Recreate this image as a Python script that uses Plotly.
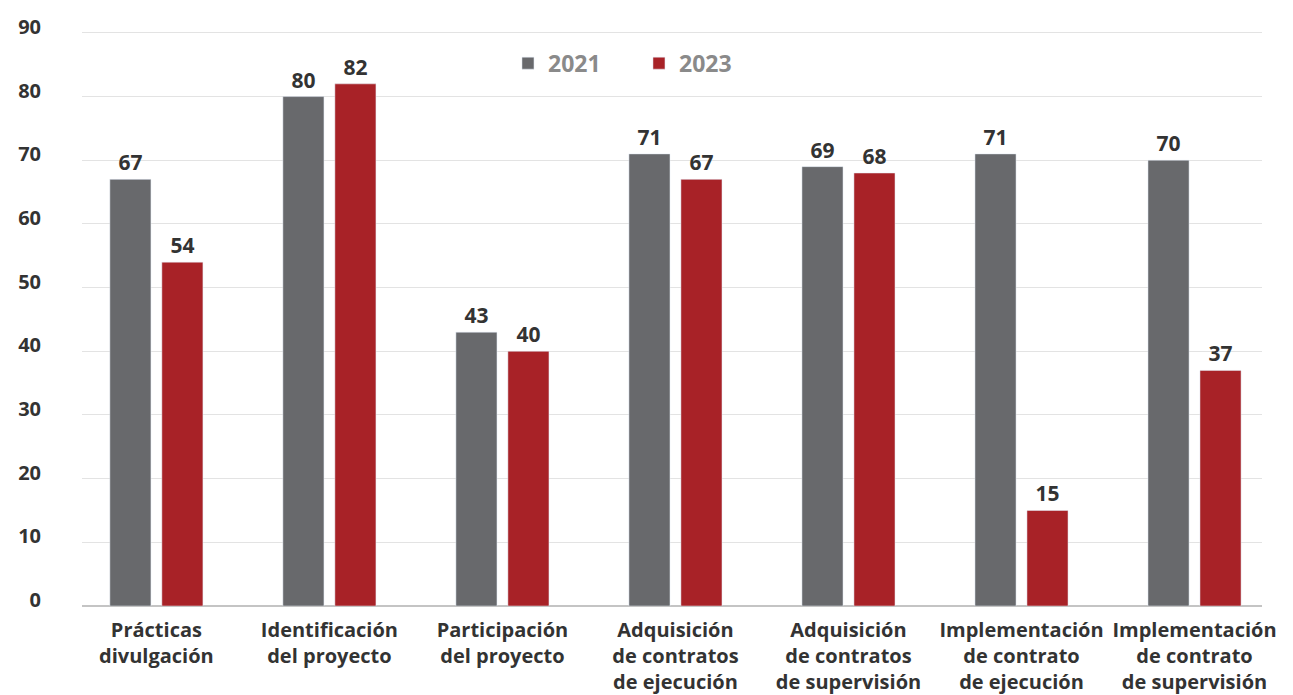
import plotly.graph_objects as go

# Data
categories = [
    "Prácticas<br>divulgación",
    "Identificación<br>del proyecto",
    "Participación<br>del proyecto",
    "Adquisición<br>de contratos<br>de ejecución",
    "Adquisición<br>de contratos<br>de supervisión",
    "Implementación<br>de contrato<br>de ejecución",
    "Implementación<br>de contrato<br>de supervisión",
]
values_2021 = [67, 80, 43, 71, 69, 71, 70]
values_2023 = [54, 82, 40, 67, 68, 15, 37]

GREY = "#68696c"
RED = "#a82227"
FONT = "'Open Sans', Lato, sans-serif"

fig = go.Figure()

for name, vals, col in [("2021", values_2021, GREY), ("2023", values_2023, RED)]:
    fig.add_trace(go.Bar(
        x=categories,
        y=vals,
        name=name,
        marker_color=col,
        text=vals,
        textposition="outside",
        texttemplate="<b>%{text}</b>",
        textfont=dict(size=21, color="#333333", family=FONT),
        cliponaxis=False,
    ))

# page body has an 8px margin, so the figure is trimmed by that amount
fig.update_layout(
    width=1285,
    height=687,
    paper_bgcolor="white",
    plot_bgcolor="white",
    barmode="group",
    bargap=0.399,
    bargroupgap=0.21,
    margin=dict(l=74, r=31, t=23, b=89),
    font=dict(family=FONT, size=20, color="#333333"),
    legend=dict(
        orientation="h",
        x=0.361,
        y=0.944,
        xanchor="left",
        yanchor="middle",
        font=dict(size=23, color="#8a8a8a", family=FONT, weight="bold"),
        entrywidth=86,
        entrywidthmode="pixels",
        bgcolor="rgba(0,0,0,0)",
    ),
    showlegend=True,
)

fig.update_xaxes(
    range=[-0.43, 6.39],
    automargin=False,
    showgrid=False,
    showline=False,
    ticks="",
    tickangle=0,
    tickfont=dict(size=20, color="#333333", family=FONT, weight="bold"),
    ticklabelstandoff=10,
)

fig.update_yaxes(
    range=[0, 90.3],
    tickvals=[0, 10, 20, 30, 40, 50, 60, 70, 80, 90],
    automargin=False,
    showgrid=True,
    gridcolor="#e3e3e3",
    gridwidth=1,
    zeroline=True,
    zerolinecolor="#c4c4c4",
    zerolinewidth=2,
    showline=False,
    ticks="",
    tickfont=dict(size=20, color="#333333", family=FONT, weight="bold"),
    ticklabelstandoff=40,
    ticklabelshift=-6,
)

fig.write_html("out.html")
